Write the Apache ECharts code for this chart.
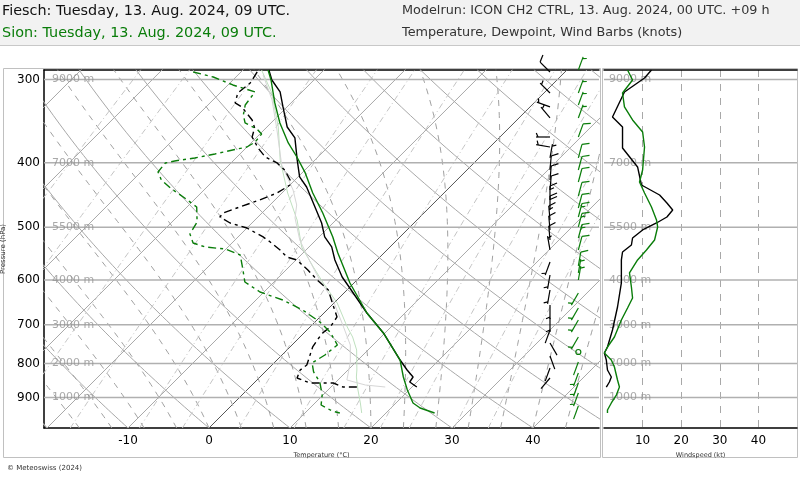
<!DOCTYPE html>
<html><head><meta charset="utf-8">
<script src="https://cdn.jsdelivr.net/npm/echarts@6/dist/echarts.min.js"></script>
<style>html,body{margin:0;padding:0;background:#fff}#c{width:800px;height:480px}</style>
</head><body><div id="c"></div>
<script>
// ---------- data ----------
const pressureTicks = [300, 400, 500, 600, 700, 800, 900];
const heightLabels = ['9000 m', '7000 m', '5500 m', '4000 m', '3000 m', '2000 m', '1000 m'];
const tempTicks = [-10, 0, 10, 20, 30, 40];
const speedTicks = [10, 20, 30, 40];

// [pressure hPa, temperature °C]
const fieschTemp = [[290.4,-36.8],[300.6,-35.2],[313.3,-32.7],[329.9,-30.5],[353.6,-27.5],[367.2,-25.2],[396.2,-22.2],[420.2,-19.8],[435.0,-17.7],[466.1,-14.2],[492.6,-11.4],[516.9,-9.3],[535.1,-7.2],[559.7,-5.2],[593.6,-2.2],[616.6,0.1],[672.2,5.3],[720.2,9.8],[790.7,15.2],[818.5,17.3],[838.5,18.9],[853.1,19.1],[868.0,20.6]];
const fieschDew = [[292.4,-38.0],[303.7,-37.5],[314.4,-37.8],[325.4,-36.9],[329.9,-35.6],[345.1,-32.7],[354.8,-31.4],[366.0,-30.6],[380.2,-28.5],[392.2,-26.5],[400.4,-24.3],[410.2,-22.5],[424.6,-20.6],[432.0,-20.0],[444.1,-20.6],[455.0,-21.9],[466.1,-23.5],[475.8,-24.8],[482.5,-24.7],[492.6,-22.7],[501.2,-20.0],[516.9,-16.9],[526.0,-15.4],[540.7,-13.2],[554.0,-11.5],[559.7,-9.9],[579.4,-7.3],[599.8,-4.9],[620.9,-2.3],[649.4,-0.2],[681.5,2.1],[705.5,2.5],[720.2,2.3],[737.9,2.5],[755.9,2.8],[804.5,4.3],[818.5,4.1],[841.4,4.7],[847.2,5.1],[856.1,6.9],[856.1,8.5],[856.1,9.8],[868.0,11.5],[868.0,13.3]];
const sionTemp = [[290.4,-36.9],[300.6,-35.3],[325.4,-32.0],[348.7,-28.9],[373.6,-25.4],[392.2,-22.6],[414.4,-19.6],[444.1,-16.2],[475.8,-12.5],[516.9,-8.3],[546.3,-5.7],[606.0,-0.5],[672.2,5.3],[720.2,9.8],[790.7,15.2],[838.5,17.7],[877.0,19.8],[917.2,22.1],[933.3,23.6],[949.5,26.0]];
const sionDew = [[292.4,-45.9],[297.5,-42.8],[305.8,-39.4],[313.3,-35.8],[327.7,-35.4],[339.2,-34.4],[348.7,-33.2],[356.0,-31.0],[362.2,-29.8],[372.4,-29.6],[378.9,-30.0],[382.8,-31.4],[388.1,-33.1],[393.5,-35.1],[397.6,-37.2],[400.4,-38.1],[413.0,-37.9],[424.6,-36.5],[436.5,-34.4],[451.8,-31.4],[466.1,-28.8],[490.9,-26.9],[511.7,-26.3],[527.8,-24.8],[535.2,-22.8],[538.9,-20.1],[550.2,-17.5],[575.4,-15.6],[603.9,-13.6],[625.1,-10.5],[642.7,-6.7],[665.3,-3.0],[693.4,0.6],[717.8,3.1],[750.7,5.6],[777.1,5.3],[798.9,4.7],[824.1,6.0],[853.1,8.0],[892.3,9.9],[923.6,11.0],[943.0,13.1],[949.5,14.3]];
const sionWetBulb = [[290.4,-37.7],[314.4,-33.6],[353.6,-28.6],[396.2,-24.3],[444.1,-19.3],[487.5,-14.8],[535.2,-10.9],[573.4,-7.0],[606.0,-3.8],[649.4,0.4],[705.5,4.6],[730.3,6.5],[763.8,8.6],[818.5,11.1],[838.5,11.9],[877.0,13.7],[917.2,15.6],[949.5,17.0]];
const fieschWetBulb = [[295.4,-36.9],[322.1,-32.7],[357.2,-28.4],[403.1,-23.5],[439.5,-19.0],[462.9,-16.7],[484.2,-15.3],[522.4,-12.0],[563.6,-8.0],[599.8,-4.6],[642.7,-0.5],[700.6,3.8],[750.7,7.2],[796.1,9.3],[847.2,11.1],[862.0,14.0],[868.0,16.7]];

// [pressure hPa, wind speed kt]
const fieschSpeed = [[290.4,12.3],[298.5,10.5],[313.3,5.3],[341.5,2.2],[353.6,4.8],[380.2,4.8],[405.9,8.7],[432.0,9.7],[447.2,14.4],[459.7,16.3],[470.9,17.8],[482.5,16.3],[492.6,13.6],[504.6,10.0],[518.8,7.4],[531.5,7.1],[544.5,4.8],[559.7,4.5],[606.0,4.5],[658.4,3.5],[712.8,2.2],[755.9,0.9],[771.8,0.1],[790.7,0.6],[818.5,0.9],[838.5,1.9],[853.1,1.4],[868.0,0.6]];
const sionSpeed = [[290.4,6.1],[300.6,7.4],[314.4,4.8],[329.9,5.3],[345.1,7.4],[359.7,10.0],[378.9,10.5],[410.2,10.0],[427.6,9.2],[444.1,10.5],[466.1,12.3],[487.5,13.6],[499.4,13.9],[522.4,13.1],[540.7,11.0],[559.7,8.7],[585.4,6.6],[614.5,7.1],[638.2,7.4],[660.7,6.1],[688.6,4.5],[730.3,2.7],[755.9,0.9],[771.8,0.1],[790.7,1.9],[810.0,2.7],[847.2,3.5],[868.0,4.0],[892.3,3.2],[917.2,1.9],[939.7,0.9],[949.5,0.9]];

// wind barbs: [pressure hPa, speed kt, direction deg]
const fieschBarbs = [[292.4,12,315],[314.4,5,315],[329.9,3,290],[342.7,3,320],[366.0,4.8,270],[378.9,5,280],[393.5,7,10],[410.2,9,5],[424.6,9.5,5],[439.5,12,5],[455.0,15,0],[470.9,17.8,0],[487.5,14,355],[504.6,10,355],[522.4,7.5,355],[540.7,5.5,350],[563.6,4.5,200],[589.5,4.5,190],[620.9,4.2,190],[653.9,3.6,180],[683.9,2.8,180],[712.8,2.2,200],[745.6,1.2,150],[779.8,0.6,160],[812.8,1,200],[841.4,1.8,220]];
const sionBarbs = [[290.4,6,20],[314.4,4.8,20],[327.7,5.3,20],[342.7,7,20],[366.0,10.2,20],[393.5,10.3,15],[410.2,10,15],[427.6,9.2,15],[448.7,11,15],[467.7,12.4,15],[482.5,13.4,15],[499.4,13.9,15],[518.8,13.2,15],[540.7,11,15],[571.4,8,10],[585.4,6.6,10],[599.8,6.8,10],[627.3,7.2,210],[660.7,6.1,210],[688.6,4.5,210],[730.3,2.7,210],[769.1,0.2,0],[796.1,1.5,200],[827.0,3,200],[856.1,3.6,200],[886.1,3.5,200],[926.8,1.6,200]];

// background families
const isotherms = [-100,-90,-80,-70,-60,-50,-40,-30,-20,-10,0,10,20,30,40];
const dryAdiabats = [-30,-20,-10,0,10,20,30,40,50,60,70,80,90,100,110,120,130];
const moistAdiabats = [-20,-16,-12,-8,-4,0,4,8,12,16,20,24,28,32,36,40,44];
const mixingRatios = [0.1,0.2,0.5,1,2,3,5,8,12,16,20,28,36];

// ---------- geometry helpers ----------
const K = 35.74;               // skew factor
const X_MIN = -20.37, X_MAX = 48.15;
const P_TOP = 290.4, P_BOT = 1000;
const sx = (T, p) => T + K * Math.log(1000 / p);
const ly = p => Math.log(p);
const GREEN = '#0a7d0a';

function pRange(step) { const a = []; for (let p = P_BOT; p >= P_TOP - step; p -= step) a.push(Math.max(p, P_TOP - 5)); return a; }
function lineS(data, color, width, type, extra) {
  return Object.assign({ type: 'line', data, symbol: 'none', showSymbol: false, silent: true, clip: true,
    xAxisIndex: 0, yAxisIndex: 0, lineStyle: { color, width, type }, z: 1 }, extra || {});
}
const series = [];

isotherms.forEach(T => series.push(lineS([[sx(T, P_BOT), ly(P_BOT)], [sx(T, P_TOP - 5), ly(P_TOP - 5)]], T === 0 ? '#555' : '#a8a8a8', 1, 'solid')));
dryAdiabats.forEach(th => {
  const d = pRange(10).map(p => { const T = (th + 273.15) * Math.pow(p / 1000, 0.2857) - 273.15; return [sx(T, p), ly(p)]; });
  series.push(lineS(d, '#a8a8a8', 1, 'solid'));
});
function es(Tc) { return 6.112 * Math.exp(17.67 * Tc / (Tc + 243.5)); }
function dTdp(Tk, p) {
  const e = es(Tk - 273.15), rs = 0.622 * e / (p - e);
  const Rd = 287.04, Cp = 1005.7, Lv = 2.501e6;
  return (Rd * Tk + Lv * rs) / (p * (Cp + Lv * Lv * rs * 0.622 / (Rd * Tk * Tk)));
}
moistAdiabats.forEach(tw => {
  let Tk = tw + 273.15, p = P_BOT; const d = [[sx(tw, p), ly(p)]];
  const h = -2;
  while (p > P_TOP - 5) {
    const k1 = dTdp(Tk, p), k2 = dTdp(Tk + h * k1, p + h);
    Tk += h * (k1 + k2) / 2; p += h;
    if (Math.round(p) % 10 === 0) d.push([sx(Tk - 273.15, p), ly(p)]);
  }
  series.push(lineS(d, '#a0a0a0', 1, [6, 6]));
});
mixingRatios.forEach(w => {
  const d = pRange(10).map(p => { const e = (w / 1000) * p / (0.622 + w / 1000); const L = Math.log(e / 6.112);
    const Td = 243.5 * L / (17.67 - L); return [sx(Td, p), ly(p)]; });
  series.push(lineS(d, '#c4c4c4', 1, [6, 3, 1, 3]));
});
pressureTicks.forEach(p => {
  series.push(lineS([[X_MIN, ly(p)], [X_MAX, ly(p)]], '#b0b0b0', 1.5, 'solid', { z: 2 }));
  series.push(lineS([[0, ly(p)], [50, ly(p)]], '#b0b0b0', 1.5, 'solid', { z: 2, xAxisIndex: 2, yAxisIndex: 1 }));
});
const hlab = (xi, yi, x, dist) => ({ type: 'scatter', xAxisIndex: xi, yAxisIndex: yi, symbolSize: 0, silent: true, z: 3,
  data: pressureTicks.map((p, i) => ({ value: [x, ly(p)], name: heightLabels[i] })),
  label: { show: true, position: 'right', distance: dist, formatter: '{b}', color: '#949494', fontSize: 11, fontFamily: 'DejaVu Sans' } });
series.push(hlab(0, 0, X_MIN, 8), hlab(2, 1, 0, 5));

const prof = arr => arr.map(([p, T]) => [sx(T, p), ly(p)]);
series.push(lineS(prof(sionWetBulb), '#bfe0bf', 1, 'solid', { z: 4 }));
series.push(lineS(prof(fieschWetBulb), '#d6d6d6', 1, 'solid', { z: 4 }));
series.push(lineS(prof(fieschDew), '#000', 1.4, [8, 4, 3, 4], { z: 5 }));
series.push(lineS(prof(sionDew), GREEN, 1.4, [8, 4, 3, 4], { z: 5 }));
series.push(lineS(prof(fieschTemp), '#000', 1.4, 'solid', { z: 6 }));
series.push(lineS(prof(sionTemp), GREEN, 1.4, 'solid', { z: 6 }));
const spd = arr => arr.map(([p, s]) => [s, ly(p)]);
series.push(lineS(spd(fieschSpeed), '#000', 1.4, 'solid', { z: 6, xAxisIndex: 2, yAxisIndex: 1 }));
series.push(lineS(spd(sionSpeed), GREEN, 1.4, 'solid', { z: 6, xAxisIndex: 2, yAxisIndex: 1 }));

function barbSeries(arr, color, colX) {
  return { type: 'custom', xAxisIndex: 0, yAxisIndex: 0, silent: true, z: 8, clip: false,
    data: arr.map(([p, s, d]) => [colX, ly(p), s, d]),
    renderItem(params, api) {
      const c = api.coord([api.value(0), api.value(1)]);
      const s = api.value(2), dir = api.value(3) * Math.PI / 180;
      const st = { stroke: color, lineWidth: 1.2, fill: null };
      if (s < 0.5) return { type: 'circle', shape: { cx: c[0], cy: c[1], r: 2.5 }, style: st };
      const L = 14, ux = Math.sin(dir), uy = -Math.cos(dir), px = -uy, py = ux;
      const ch = [{ type: 'line', shape: { x1: c[0], y1: c[1], x2: c[0] + ux * L, y2: c[1] + uy * L }, style: st }];
      const n5 = Math.round(s / 5); let full = Math.floor(n5 / 2), half = n5 % 2, pos = L;
      for (let i = 0; i < full; i++) {
        const bx = c[0] + ux * pos, by = c[1] + uy * pos;
        ch.push({ type: 'line', shape: { x1: bx, y1: by, x2: bx + px * 7 + ux * 3, y2: by + py * 7 + uy * 3 }, style: st });
        pos -= 3.5;
      }
      if (half) {
        if (full === 0) pos = L - 2;
        const bx = c[0] + ux * pos, by = c[1] + uy * pos;
        ch.push({ type: 'line', shape: { x1: bx, y1: by, x2: bx + px * 4 + ux * 1.7, y2: by + py * 4 + uy * 1.7 }, style: st });
      }
      return { type: 'group', children: ch };
    } };
}
series.push(barbSeries(fieschBarbs, '#000', 42.1));
series.push(barbSeries(sionBarbs, GREEN, 45.6));

const F = 'DejaVu Sans';
const yLog = {
  type: 'value', inverse: true, min: ly(P_TOP), max: ly(P_BOT),
  axisLine: { show: true, onZero: false, lineStyle: { color: '#000', width: 1.5 } }, axisTick: { show: false },
  splitLine: { show: false }
};
const option = {
  animation: false,
  backgroundColor: '#fff',
  graphic: [
    { type: 'rect', shape: { x: 0, y: 0, width: 800, height: 45 }, style: { fill: '#f2f2f2' }, z: -10 },
    { type: 'line', shape: { x1: 0, y1: 45.5, x2: 800, y2: 45.5 }, style: { stroke: '#c8c8c8' } },
    { type: 'rect', shape: { x: 3.5, y: 68.5, width: 597, height: 389 }, style: { fill: null, stroke: '#c0c0c0', lineWidth: 1 } },
    { type: 'rect', shape: { x: 602.5, y: 68.5, width: 195, height: 389 }, style: { fill: null, stroke: '#c0c0c0', lineWidth: 1 } },
    { type: 'text', x: 2, y: 11, style: { text: 'Fiesch: Tuesday, 13. Aug. 2024, 09 UTC.', fill: '#111', font: '14.4px "DejaVu Sans"', textVerticalAlign: 'middle' } },
    { type: 'text', x: 2, y: 33, style: { text: 'Sion: Tuesday, 13. Aug. 2024, 09 UTC.', fill: '#0a7d0a', font: '14.4px "DejaVu Sans"', textVerticalAlign: 'middle' } },
    { type: 'text', x: 402, y: 11, style: { text: 'Modelrun: ICON CH2 CTRL, 13. Aug. 2024, 00 UTC. +09 h', fill: '#333', font: '12.8px "DejaVu Sans"', textVerticalAlign: 'middle' } },
    { type: 'text', x: 402, y: 33, style: { text: 'Temperature, Dewpoint, Wind Barbs (knots)', fill: '#333', font: '12.8px "DejaVu Sans"', textVerticalAlign: 'middle' } },
    { type: 'text', x: 7, y: 468, style: { text: '© Meteoswiss (2024)', fill: '#333', font: '7px "DejaVu Sans"', textVerticalAlign: 'middle' } }
  ],
  grid: [
    { left: 44, top: 70, width: 555, height: 358, outerBoundsMode: 'none', containLabel: false },
    { left: 604, top: 70, width: 193, height: 358, outerBoundsMode: 'none', containLabel: false }
  ],
  xAxis: [
    { gridIndex: 0, type: 'value', min: X_MIN, max: X_MAX, position: 'bottom',
      name: 'Temperature (°C)', nameLocation: 'middle', nameGap: 16, nameTextStyle: { fontSize: 6.5, fontFamily: F, color: '#333' },
      axisLine: { show: true, onZero: false, lineStyle: { color: '#000', width: 1.5 } }, axisTick: { show: false }, splitLine: { show: false },
      axisLabel: { customValues: tempTicks, fontSize: 12, fontFamily: F, color: '#000', margin: 7 } },
    { gridIndex: 0, type: 'value', min: X_MIN, max: X_MAX, position: 'top',
      axisLine: { show: true, onZero: false, lineStyle: { color: '#000', width: 1.5 } }, axisTick: { show: false }, axisLabel: { show: false }, splitLine: { show: false } },
    { gridIndex: 1, type: 'value', min: 0, max: 50, interval: 10, position: 'bottom',
      name: 'Windspeed (kt)', nameLocation: 'middle', nameGap: 16, nameTextStyle: { fontSize: 6.5, fontFamily: F, color: '#333' },
      axisLine: { show: true, onZero: false, lineStyle: { color: '#000', width: 1.5 } }, axisTick: { show: false },
      splitLine: { show: true, showMinLine: false, showMaxLine: false, lineStyle: { color: '#a8a8a8', type: [7, 7], width: 1 } },
      axisLabel: { customValues: speedTicks, fontSize: 12, fontFamily: F, color: '#000', margin: 7 } },
    { gridIndex: 1, type: 'value', min: 0, max: 50, position: 'top',
      axisLine: { show: true, onZero: false, lineStyle: { color: '#000', width: 1.5 } }, axisTick: { show: false }, axisLabel: { show: false }, splitLine: { show: false } }
  ],
  yAxis: [
    Object.assign({}, yLog, { gridIndex: 0, position: 'left', name: 'Pressure (hPa)', nameLocation: 'middle', nameGap: 33,
      nameTextStyle: { fontSize: 7, fontFamily: F, color: '#333' },
      axisLabel: { customValues: pressureTicks.map(ly), formatter: v => String(Math.round(Math.exp(v))), fontSize: 12, fontFamily: F, color: '#000', margin: 4 } }),
    Object.assign({}, yLog, { gridIndex: 1, axisLine: { show: false }, axisLabel: { show: false } })
  ],
  series
};
const chart = echarts.init(document.getElementById('c'), null, { renderer: 'canvas' });
chart.setOption(option);
</script></body></html>
